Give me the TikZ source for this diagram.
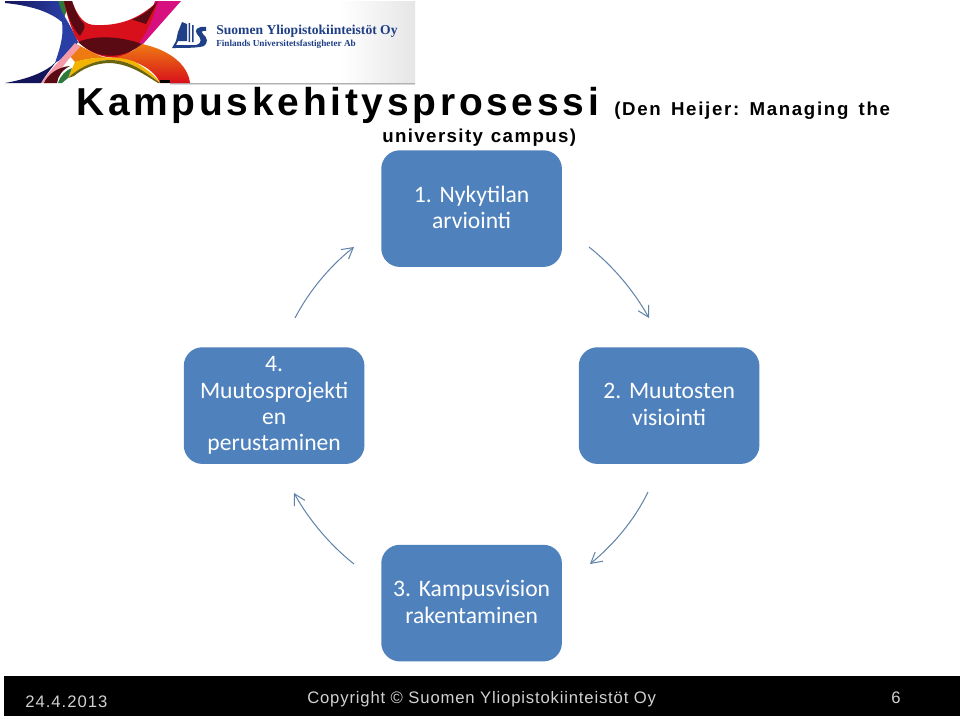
\documentclass[tikz,border=0pt]{standalone}
\usepackage{fontspec}
\setmainfont{Liberation Sans}
\newfontfamily\boxfont{Carlito}
\newfontfamily\logofont{Liberation Serif}
\newfontfamily\titlefont[LetterSpace=9.6]{Liberation Sans}
\newfontfamily\subfont[LetterSpace=9,WordSpace=1.5]{Liberation Sans}
\newfontfamily\subbfont[LetterSpace=7.5,WordSpace=1.2]{Liberation Sans}
\newfontfamily\footfont[LetterSpace=6]{Liberation Sans}
\newfontfamily\copyfont[LetterSpace=5]{Liberation Sans}
\usetikzlibrary{arrows.meta}
\definecolor{boxblue}{HTML}{4F81BD}
\definecolor{arrowblue}{HTML}{5F82A8}
\definecolor{logoblue}{HTML}{1F3F86}
\definecolor{darkred}{HTML}{5A0A12}
\definecolor{crimson}{HTML}{D8101C}
\definecolor{ribbonmag}{HTML}{D8107F}
\definecolor{ribbonblue}{HTML}{2A3FA5}
\definecolor{ribbonnavy}{HTML}{14145A}
\definecolor{ribbonyel}{HTML}{F2B400}
\definecolor{ribbonor}{HTML}{EE7A12}
\definecolor{ribbonpink}{HTML}{F59AA8}
\definecolor{ribbongreen}{HTML}{2F7A3A}
\definecolor{ribbonolive}{HTML}{6A6410}
\tikzset{
  stepbox/.style={fill=boxblue,rounded corners=14pt,minimum width=135.5pt,minimum height=87.5pt,inner sep=0pt,text=white,align=center,font=\boxfont\frenchspacing\fontsize{17.7}{19.85}\selectfont,anchor=north west,text width=130pt},
  flow/.style={draw=arrowblue,line width=0.75pt,-{Straight Barb[length=8pt,width=9pt,line width=0.75pt]}},
  foot/.style={text=white!82!black,inner sep=0pt},
}
\begin{document}
\begin{tikzpicture}[x=0.75pt,y=-0.75pt]
\useasboundingbox (0,0) rectangle (960,718);
\fill[white] (0,0) rectangle (960,718);
% banner
\shade[left color=white,right color=white!90!black] (340,1) rectangle (415,83);
\shade[top color=white!70!black,bottom color=white] (170,83) rectangle (415,85);
% ribbons
\fill[ribbongreen] (55,1) -- (70,1) -- (64,18) -- cycle;
\shade[left color=ribbonnavy,right color=ribbonblue] (5,1) -- (58,1) .. controls (61,8) and (63,16) .. (64,24) .. controls (50,10) and (25,5) .. (5,3) -- cycle;
\fill[ribbonblue] (60,8) .. controls (64,16) and (72,28) .. (78,42) .. controls (72,52) and (64,58) .. (55,63) .. controls (60,48) and (64,36) .. (62,22) -- cycle;
\fill[ribbonmag] (155,1) -- (181,1) -- (143,44) -- (128,42) .. controls (142,32) and (150,15) .. (155,1) -- cycle;
\fill[crimson] (64,1) -- (72,1) .. controls (78,18) and (85,25) .. (95,25) .. controls (118,26) and (138,20) .. (158,1) .. controls (150,28) and (142,44) .. (125,56) .. controls (105,62) and (82,50) .. (75,36) .. controls (70,25) and (66,12) .. (64,1) -- cycle;
\fill[darkred] (64,1) -- (72,1) .. controls (76,14) and (80,20) .. (84,24) .. controls (86,28) and (82,32) .. (80,36) .. controls (72,28) and (67,14) .. (64,1) -- cycle;
\fill[darkred] (158,1) .. controls (150,10) and (142,16) .. (132,19.5) -- (146,24) .. controls (150,16) and (154,9) .. (158,1) -- cycle;
\fill[ribbonor] (76,44) -- (100,56) -- (115,60) -- (135,60) -- (100,58) .. controls (92,58) and (82,60) .. (75,62) -- (70,56) -- cycle;
\shade[top color=ribbonor,bottom color=crimson] (142,44) .. controls (170,50) and (188,65) .. (190,83) -- (160,83) .. controls (155,70) and (135,58) .. (112,58) .. controls (125,56) and (135,50) .. (142,44) -- cycle;
\fill[darkred] (78,42) .. controls (95,35) and (120,36) .. (142,44) .. controls (125,58) and (100,62) .. (78,42) -- cycle;
\fill[ribbonyel] (75,62) .. controls (90,57) and (120,55) .. (135,62) .. controls (145,68) and (156,76) .. (160,83) .. controls (145,72) and (130,60) .. (110,60) .. controls (95,60) and (78,68) .. (68,78) -- cycle;
\fill[ribbonolive] (110,60) .. controls (130,60) and (145,72) .. (160,83) -- (158,83) .. controls (145,75) and (130,64) .. (110,63) .. controls (95,63) and (82,69) .. (74,76) -- (68,78) .. controls (78,68) and (95,60) .. (110,60) -- cycle;
\fill[ribbonpink] (75,43) -- (80,47) -- (68,60) -- (50,83) -- (41,83) .. controls (50,70) and (65,55) .. (75,43) -- cycle;
\fill[ribbonnavy] (5,83) .. controls (28,79) and (46,72) .. (56,62) .. controls (50,70) and (45,76) .. (41,83) -- cycle;
\fill[ribbongreen] (58,83) .. controls (60,76) and (66,70) .. (72,68) -- (68,78) -- (62,83) -- cycle;
\fill[darkred] (44,83) .. controls (48,74) and (58,67) .. (70,66) .. controls (62,70) and (58,76) .. (57,83) -- cycle;
\fill[black] (160,80) rectangle (170,83);
% logo mark
\fill[logoblue] (172,48) -- (176,41) -- (178,32) -- (182,22) -- (187,24) -- (187,41) -- (178,41) -- (176,45) -- (196,45) .. controls (203,43) and (201,38) .. (197,34) .. controls (194,30) and (197,26) .. (206,27) -- (206,31) .. controls (202,30) and (201,32) .. (203,34) .. controls (208,38) and (208,43) .. (204,46) .. controls (198,48) and (185,48) .. (172,48) -- cycle;
\fill[logoblue] (188.5,23) rectangle (190,42) (192,25) rectangle (193.5,42);
\node[anchor=west,inner sep=0pt,text=logoblue,font=\logofont\bfseries\fontsize{10.2}{12}\selectfont] (logoa) at (216,31) {Suomen Yliopistokiinteistöt Oy};
\node[anchor=west,inner sep=0pt,text=logoblue,font=\logofont\bfseries\fontsize{6.9}{8}\selectfont] (logob) at (216,44) {Finlands Universitetsfastigheter Ab};
% title
\node[anchor=base west,inner sep=0pt,font=\titlefont\bfseries\fontsize{29.2}{32}\selectfont] (title) at (76,115) {Kampuskehitysprosessi};
\node[anchor=base west,inner sep=0pt,font=\subfont\bfseries\frenchspacing\fontsize{14}{16}\selectfont] (suba) at (614,115) {(Den Heijer: Managing the};
\node[anchor=base west,inner sep=0pt,font=\subbfont\bfseries\fontsize{14}{16}\selectfont] (subb) at (382,142) {university campus)};
% boxes
\node[stepbox] (s1) at (381,150) {1. Nykytilan\\arviointi\par\vspace{1.5pt}};
\node[stepbox] (s2) at (578.5,347) {2. Muutosten\\visiointi\par\vspace{1.5pt}};
\node[stepbox] (s3) at (381,544.5) {3. Kampusvision\\rakentaminen\par\vspace{1.5pt}};
\node[stepbox] (s4) at (183.5,347) {4.\\Muutosprojekti\\en\\perustaminen};
% connectors
\coordinate (a1) at (589,247); \coordinate (b1) at (649,318);
\coordinate (a2) at (648,492); \coordinate (b2) at (590,564);
\coordinate (a3) at (354,564); \coordinate (b3) at (294,493);
\coordinate (a4) at (295,318); \coordinate (b4) at (354,247);
\draw[flow] (a1) .. controls (613,266) and (634,291) .. (b1);
\draw[flow] (a2) .. controls (634,521) and (613,545) .. (b2);
\draw[flow] (a3) .. controls (330,545) and (309,520) .. (b3);
\draw[flow] (a4) .. controls (309,291) and (330,266) .. (b4);
% footer
\fill[black] (4,676) rectangle (960,716);
\node[foot,anchor=base west,font=\footfont\fontsize{12.5}{14}\selectfont] (date) at (25,707) {24.4.2013};
\node[foot,anchor=base west,font=\copyfont\fontsize{12.5}{14}\selectfont] (copy) at (307,703) {Copyright © Suomen Yliopistokiinteistöt Oy};
\node[foot,anchor=base,font=\footfont\fontsize{12.5}{14}\selectfont] (num) at (896,703) {6};
\end{tikzpicture}
\end{document}
